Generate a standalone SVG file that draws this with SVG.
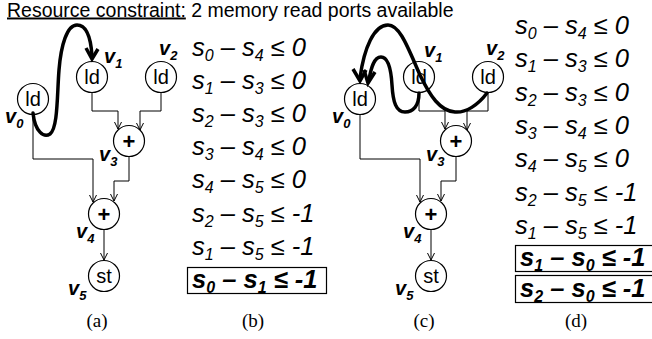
<svg xmlns="http://www.w3.org/2000/svg" width="652" height="339" viewBox="0 0 652 339">
<defs>
<marker id="ar" markerUnits="userSpaceOnUse" markerWidth="12" markerHeight="12" viewBox="-8 -6 10 12" refX="0" refY="0" orient="auto">
<path d="M-7,-3.5 L0,0 L-7,3.5" fill="none" stroke="#000" stroke-width="1"/>
</marker>
</defs>
<style>
.bg{fill:#fff}
circle{fill:#fff;stroke:#000;stroke-width:1.2}
.nt{font-family:"Liberation Sans",Arial,sans-serif;font-size:20px;text-anchor:middle}
.pl{font-family:"Liberation Sans",Arial,sans-serif;font-size:22px;font-weight:bold;text-anchor:middle}
.vl{font-family:"Liberation Sans",Arial,sans-serif;font-size:20px;font-weight:bold;font-style:italic}
.vs{font-size:13px}
.e{fill:none;stroke:#000;stroke-width:1;marker-end:url(#ar)}
.th{fill:none;stroke:#000;stroke-width:3.5;stroke-linecap:round}
.ah{fill:none;stroke:#000;stroke-width:3.5;stroke-linejoin:miter;stroke-linecap:butt}
.eq{font-family:"Liberation Sans",Arial,sans-serif;font-size:25.5px;font-style:italic}
.eqb{font-family:"Liberation Sans",Arial,sans-serif;font-size:25.5px;font-style:italic;font-weight:bold}
.sb{font-size:16px}
.box{fill:none;stroke:#000;stroke-width:1.2}
.cap{font-family:"Liberation Serif","Times New Roman",serif;font-size:19px;text-anchor:middle}
.title{font-family:"Liberation Sans",Arial,sans-serif;font-size:19.5px}
</style>
<rect class="bg" x="0" y="0" width="652" height="339"/>
<text class="title" x="7" y="16.5"><tspan text-decoration="underline">Resource constraint:</tspan> 2 memory read ports available</text>

<g id="connectors">
<!-- (a) -->
<path class="e" d="M92,92.5 V111 H118 V129"/>
<path class="e" d="M161,92.5 V111 H140 V130"/>
<path class="e" d="M129,156.5 V181 H114 V201"/>
<path class="e" d="M33,114.5 V159 H93 V202"/>
<path class="e" d="M104,229.5 V260"/>
<!-- (c) -->
<path class="e" d="M419,92.5 V111 H445 V129"/>
<path class="e" d="M488,92.5 V111 H467 V130"/>
<path class="e" d="M456,156.5 V181 H441 V201"/>
<path class="e" d="M360,114.5 V159 H420 V202"/>
<path class="e" d="M431,229.5 V260"/>
</g>

<!-- (a) nodes -->
<g id="a_v0"><circle cx="33" cy="99" r="15.5"/><text class="nt" x="33" y="106">ld</text><text class="vl" x="5" y="123">v<tspan class="vs" dy="5">0</tspan></text></g>
<g id="a_v1"><circle cx="92" cy="77" r="15.5"/><text class="nt" x="92" y="84">ld</text><text class="vl" x="104" y="63">v<tspan class="vs" dy="5">1</tspan></text></g>
<g id="a_v2"><circle cx="161" cy="77" r="15.5"/><text class="nt" x="161" y="84">ld</text><text class="vl" x="159" y="55">v<tspan class="vs" dy="5">2</tspan></text></g>
<g id="a_v3"><circle cx="129" cy="141" r="15.5"/><text class="pl" x="129" y="149">+</text><text class="vl" x="99" y="161">v<tspan class="vs" dy="5">3</tspan></text></g>
<g id="a_v4"><circle cx="104" cy="214" r="15.5"/><text class="pl" x="104" y="222">+</text><text class="vl" x="76" y="238">v<tspan class="vs" dy="5">4</tspan></text></g>
<g id="a_v5"><circle cx="104" cy="276" r="15.5"/><text class="nt" x="104" y="283">st</text><text class="vl" x="68" y="295">v<tspan class="vs" dy="5">5</tspan></text></g>

<!-- (c) nodes -->
<g id="c_v0"><circle cx="360" cy="99" r="15.5"/><text class="nt" x="360" y="106">ld</text><text class="vl" x="332" y="123">v<tspan class="vs" dy="5">0</tspan></text></g>
<g id="c_v1"><circle cx="419" cy="77" r="15.5"/><text class="nt" x="419" y="84">ld</text><text class="vl" x="424" y="57">v<tspan class="vs" dy="5">1</tspan></text></g>
<g id="c_v2"><circle cx="488" cy="77" r="15.5"/><text class="nt" x="488" y="84">ld</text><text class="vl" x="486" y="55">v<tspan class="vs" dy="5">2</tspan></text></g>
<g id="c_v3"><circle cx="456" cy="141" r="15.5"/><text class="pl" x="456" y="149">+</text><text class="vl" x="426" y="161">v<tspan class="vs" dy="5">3</tspan></text></g>
<g id="c_v4"><circle cx="431" cy="214" r="15.5"/><text class="pl" x="431" y="222">+</text><text class="vl" x="403" y="238">v<tspan class="vs" dy="5">4</tspan></text></g>
<g id="c_v5"><circle cx="431" cy="276" r="15.5"/><text class="nt" x="431" y="283">st</text><text class="vl" x="395" y="295">v<tspan class="vs" dy="5">5</tspan></text></g>

<g id="ordering-arcs">
<path class="th" d="M33,113 C35,132 44,138 50,134 C58,128 57,95 59,70 C61,45 67,25 77,25 C87,25 91,40 92,56"/>
<polyline class="ah" points="86,48 92,59 98,49"/>
<path class="th" d="M487,93 C478,105 466,113 455,112 C440,111 430,96 420,75 C408,48 400,25 388,25 C374,25 364,48 360,78"/>
<polyline class="ah" points="353,69 360,81 366,70"/>
<path class="th" d="M419,93 C419,106 413,112 405,112 C396,112 393,102 392,85 C391,68 388,57 381,57 C374,57 371,68 369,80"/>
<polyline class="ah" points="364,70 368,83 375,72"/>
</g>

<!-- (b) constraints -->
<g id="b_constraints">
<text class="eq" x="192" y="55.5">s<tspan class="sb" dy="5">0</tspan><tspan dy="-5"> – s</tspan><tspan class="sb" dy="5">4</tspan><tspan dy="-5"> ≤ 0</tspan></text>
<text class="eq" x="192" y="88.7">s<tspan class="sb" dy="5">1</tspan><tspan dy="-5"> – s</tspan><tspan class="sb" dy="5">3</tspan><tspan dy="-5"> ≤ 0</tspan></text>
<text class="eq" x="192" y="121.9">s<tspan class="sb" dy="5">2</tspan><tspan dy="-5"> – s</tspan><tspan class="sb" dy="5">3</tspan><tspan dy="-5"> ≤ 0</tspan></text>
<text class="eq" x="192" y="155.1">s<tspan class="sb" dy="5">3</tspan><tspan dy="-5"> – s</tspan><tspan class="sb" dy="5">4</tspan><tspan dy="-5"> ≤ 0</tspan></text>
<text class="eq" x="192" y="188.3">s<tspan class="sb" dy="5">4</tspan><tspan dy="-5"> – s</tspan><tspan class="sb" dy="5">5</tspan><tspan dy="-5"> ≤ 0</tspan></text>
<text class="eq" x="192" y="221.5">s<tspan class="sb" dy="5">2</tspan><tspan dy="-5"> – s</tspan><tspan class="sb" dy="5">5</tspan><tspan dy="-5"> ≤ -1</tspan></text>
<text class="eq" x="192" y="254.7">s<tspan class="sb" dy="5">1</tspan><tspan dy="-5"> – s</tspan><tspan class="sb" dy="5">5</tspan><tspan dy="-5"> ≤ -1</tspan></text>
<rect class="box" x="187.5" y="267.5" width="139" height="26"/>
<text class="eqb" x="192" y="288">s<tspan class="sb" dy="5">0</tspan><tspan dy="-5"> – s</tspan><tspan class="sb" dy="5">1</tspan><tspan dy="-5"> ≤ -1</tspan></text>
</g>

<!-- (d) constraints -->
<g id="d_constraints">
<text class="eq" x="515" y="34">s<tspan class="sb" dy="5">0</tspan><tspan dy="-5"> – s</tspan><tspan class="sb" dy="5">4</tspan><tspan dy="-5"> ≤ 0</tspan></text>
<text class="eq" x="515" y="67.3">s<tspan class="sb" dy="5">1</tspan><tspan dy="-5"> – s</tspan><tspan class="sb" dy="5">3</tspan><tspan dy="-5"> ≤ 0</tspan></text>
<text class="eq" x="515" y="100.6">s<tspan class="sb" dy="5">2</tspan><tspan dy="-5"> – s</tspan><tspan class="sb" dy="5">3</tspan><tspan dy="-5"> ≤ 0</tspan></text>
<text class="eq" x="515" y="133.9">s<tspan class="sb" dy="5">3</tspan><tspan dy="-5"> – s</tspan><tspan class="sb" dy="5">4</tspan><tspan dy="-5"> ≤ 0</tspan></text>
<text class="eq" x="515" y="167.2">s<tspan class="sb" dy="5">4</tspan><tspan dy="-5"> – s</tspan><tspan class="sb" dy="5">5</tspan><tspan dy="-5"> ≤ 0</tspan></text>
<text class="eq" x="515" y="200.5">s<tspan class="sb" dy="5">2</tspan><tspan dy="-5"> – s</tspan><tspan class="sb" dy="5">5</tspan><tspan dy="-5"> ≤ -1</tspan></text>
<text class="eq" x="515" y="233.8">s<tspan class="sb" dy="5">1</tspan><tspan dy="-5"> – s</tspan><tspan class="sb" dy="5">5</tspan><tspan dy="-5"> ≤ -1</tspan></text>
<rect class="box" x="515.5" y="245.5" width="140" height="26"/>
<text class="eqb" x="520" y="266">s<tspan class="sb" dy="5">1</tspan><tspan dy="-5"> – s</tspan><tspan class="sb" dy="5">0</tspan><tspan dy="-5"> ≤ -1</tspan></text>
<rect class="box" x="515.5" y="275.5" width="140" height="27"/>
<text class="eqb" x="520" y="296.5">s<tspan class="sb" dy="5">2</tspan><tspan dy="-5"> – s</tspan><tspan class="sb" dy="5">0</tspan><tspan dy="-5"> ≤ -1</tspan></text>
</g>

<g id="captions">
<text class="cap" x="97" y="327">(a)</text>
<text class="cap" x="253" y="327">(b)</text>
<text class="cap" x="424" y="327">(c)</text>
<text class="cap" x="576" y="327">(d)</text>
</g>
</svg>
